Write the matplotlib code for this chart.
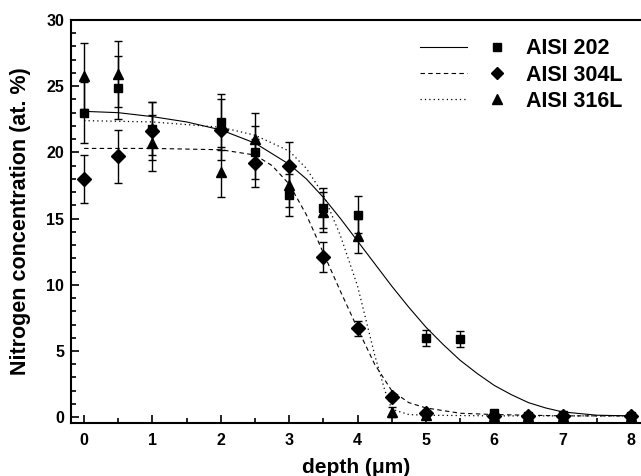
import matplotlib
matplotlib.use("Agg")
import matplotlib.pyplot as plt
from matplotlib.legend_handler import HandlerTuple
from matplotlib.ticker import MultipleLocator

plt.rcParams['font.family'] = ['Liberation Sans', 'DejaVu Sans']
plt.rcParams['font.weight'] = 'bold'

# measured points
d202 = [0, 0.5, 1, 2, 2.5, 3, 3.5, 4, 5, 5.5, 6, 6.5, 7, 8]
n202 = [23.0, 24.9, 21.8, 22.3, 20.0, 16.8, 15.8, 15.3, 6.0, 5.9, 0.3, 0.1, 0.2, 0.1]
e202 = [2.3, 2.4, 2.0, 2.1, 2.0, 1.6, 1.5, 1.4, 0.6, 0.6, 0.1, 0.1, 0.1, 0.1]

d304 = [0, 0.5, 1, 2, 2.5, 3, 3.5, 4, 4.5, 5, 6, 6.5, 7, 8]
n304 = [18.0, 19.7, 21.6, 21.7, 19.2, 19.0, 12.1, 6.7, 1.5, 0.3, 0.1, 0.1, 0.1, 0.1]
e304 = [1.8, 2.0, 2.2, 2.3, 1.8, 1.8, 1.1, 0.6, 0.2, 0.1, 0.1, 0.1, 0.1, 0.1]

d316 = [0, 0.5, 1, 2, 2.5, 3, 3.5, 4, 4.5, 5, 6, 6.5, 7, 8]
n316 = [25.8, 25.9, 20.7, 18.5, 21.0, 17.5, 15.5, 13.7, 0.4, 0.2, 0.1, 0.1, 0.1, 0.1]
e316 = [2.5, 2.5, 2.1, 1.9, 2.0, 1.6, 1.5, 1.3, 0.4, 0.1, 0.1, 0.1, 0.1, 0.1]

# fitted curves
fx202 = [0, 0.5, 1, 1.5, 2, 2.5, 3, 3.25, 3.5, 3.75, 4, 4.25, 4.5, 4.75, 5, 5.25, 5.5,
         5.75, 6, 6.25, 6.5, 6.75, 7, 7.5, 8]
fy202 = [23.1, 23.0, 22.7, 22.3, 21.7, 20.7, 19.1, 18.0, 16.6, 15.0, 13.3, 11.6, 9.9,
         8.3, 6.8, 5.5, 4.3, 3.3, 2.4, 1.7, 1.1, 0.7, 0.4, 0.15, 0.1]

fx304 = [0, 1, 2, 2.5, 2.75, 3, 3.25, 3.5, 3.75, 4, 4.25, 4.5, 4.75, 5, 5.5, 6, 7, 8]
fy304 = [20.3, 20.3, 20.2, 19.8, 19.0, 17.6, 15.3, 12.4, 9.5, 6.7, 4.0, 2.0, 1.1, 0.7,
         0.3, 0.2, 0.1, 0.1]

fx316 = [0, 1, 2, 2.5, 3, 3.25, 3.5, 3.75, 4, 4.25, 4.4, 4.5, 4.75, 5, 6, 7, 8]
fy316 = [22.4, 22.3, 21.9, 21.3, 20.1, 18.8, 16.8, 13.7, 9.9, 4.7, 2.0, 0.6, 0.2, 0.15,
         0.1, 0.1, 0.1]

fig = plt.figure(figsize=(6.41, 4.76), dpi=100)
ax = fig.add_axes([0.111, 0.111, 0.889, 0.847])

ebkw = dict(ls='none', color='black', ecolor='black', elinewidth=1.0, capsize=3.2, capthick=1.0)
ax.errorbar(d202, n202, yerr=e202, marker='s', ms=6.3, **ebkw)
ax.errorbar(d304, n304, yerr=e304, marker='D', ms=7, **ebkw)
ax.errorbar(d316, n316, yerr=e316, marker='^', ms=7.5, **ebkw)

l1, = ax.plot(fx202, fy202, color='black', lw=0.8, ls='-')
l2, = ax.plot(fx304, fy304, color='black', lw=0.8, ls=(0, (4, 3)))
l3, = ax.plot(fx316, fy316, color='black', lw=0.9, ls=(0, (1, 2.5)))

m1, = ax.plot([], [], 's', color='black', ms=6)
m2, = ax.plot([], [], 'D', color='black', ms=6)
m3, = ax.plot([], [], '^', color='black', ms=7)

ax.legend([(l1, m1), (l2, m2), (l3, m3)], ['AISI 202', 'AISI 304L', 'AISI 316L'],
          handler_map={tuple: HandlerTuple(ndivide=None, pad=0.3)},
          loc='upper left', bbox_to_anchor=(0.612, 0.955), frameon=False,
          fontsize=15.5, handlelength=4.7, handletextpad=0.25, labelspacing=0.25,
          borderpad=0, borderaxespad=0)

ax.set_xlim(-0.19, 8.146)
ax.set_ylim(-0.45, 30)
ax.xaxis.set_major_locator(MultipleLocator(1))
ax.xaxis.set_minor_locator(MultipleLocator(0.5))
ax.yaxis.set_major_locator(MultipleLocator(5))
ax.yaxis.set_minor_locator(MultipleLocator(1))
ax.tick_params(which='both', direction='in', width=1.2, labelsize=11.5, pad=7)
ax.tick_params(which='major', length=6)
ax.tick_params(which='minor', length=3.5)
ax.tick_params(axis='y', pad=5)
for lab in ax.get_xticklabels() + ax.get_yticklabels():
    lab.set_fontweight('bold')

ax.spines['right'].set_visible(False)
for s in ['left', 'bottom', 'top']:
    ax.spines[s].set_linewidth(1.5)

ax.set_xlabel('depth (μm)', fontsize=15, fontweight='bold', labelpad=7)
ax.set_ylabel('Nitrogen concentration (at. %)', fontsize=15.5, fontweight='bold')
ax.yaxis.set_label_coords(-0.070, 0.5)

fig.savefig('out.png', dpi=100)
